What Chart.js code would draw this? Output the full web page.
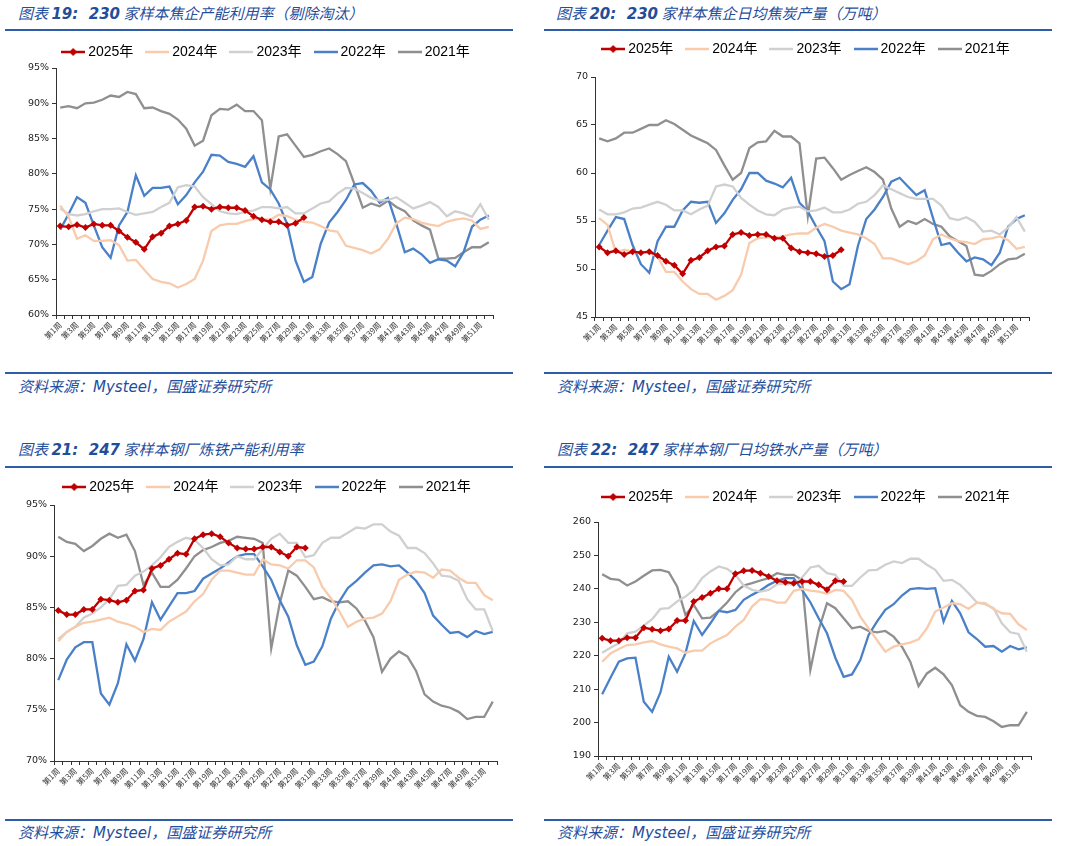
<!DOCTYPE html>
<html lang="zh">
<head>
<meta charset="UTF-8">
<title>焦化与钢厂周度数据</title>
<script src="https://cdn.jsdelivr.net/npm/chart.js"></script>
<style>
    body { margin: 0; width: 1065px; height: 846px; background: #fff; position: relative; overflow: hidden; }
    .ttl, .src { position: absolute; color: #1f4e9c; font-style: italic; font-family: "Noto Sans CJK SC", "DejaVu Sans", sans-serif; font-size: 15px; line-height: 18px; white-space: nowrap; }
    .ttl b, .src b { font-family: "DejaVu Sans", sans-serif; font-weight: bold; }
    .rule { position: absolute; height: 2px; background: #2e5ca8; }
    .box { position: absolute; }
</style>
</head>
<body>
    <div class="ttl" style="left:18px; top:4px;">图表 <b>19:&nbsp; 230</b> 家样本焦企产能利用率（剔除淘汰）</div>
    <div class="ttl" style="left:556px; top:4px;">图表 <b>20:&nbsp; 230</b> 家样本焦企日均焦炭产量（万吨）</div>
    <div class="rule" style="left:5px; top:29px; width:508px;"></div>
    <div class="rule" style="left:544px; top:29px; width:508px;"></div>

    <div class="box" style="left:0px; top:29px; width:532px; height:331px;"><canvas id="c1"></canvas></div>
    <div class="box" style="left:540px; top:26px; width:525px; height:336px;"><canvas id="c2"></canvas></div>

    <div class="rule" style="left:5px; top:372px; width:508px;"></div>
    <div class="rule" style="left:544px; top:372px; width:508px;"></div>
    <div class="src" style="left:18px; top:377px;">资料来源：<b style="font-weight:normal">Mysteel</b>，国盛证券研究所</div>
    <div class="src" style="left:557px; top:377px;">资料来源：<b style="font-weight:normal">Mysteel</b>，国盛证券研究所</div>

    <div class="ttl" style="left:18px; top:440px;">图表 <b>21:&nbsp; 247</b> 家样本钢厂炼铁产能利用率</div>
    <div class="ttl" style="left:557px; top:440px;">图表 <b>22:&nbsp; 247</b> 家样本钢厂日均铁水产量（万吨）</div>
    <div class="rule" style="left:5px; top:466px; width:508px;"></div>
    <div class="rule" style="left:544px; top:466px; width:508px;"></div>

    <div class="box" style="left:0px; top:464px; width:532px; height:342px;"><canvas id="c3"></canvas></div>
    <div class="box" style="left:540px; top:474px; width:525px; height:327px;"><canvas id="c4"></canvas></div>

    <div class="rule" style="left:5px; top:819px; width:508px;"></div>
    <div class="rule" style="left:544px; top:819px; width:508px;"></div>
    <div class="src" style="left:18px; top:823px;">资料来源：<b style="font-weight:normal">Mysteel</b>，国盛证券研究所</div>
    <div class="src" style="left:557px; top:823px;">资料来源：<b style="font-weight:normal">Mysteel</b>，国盛证券研究所</div>

<script>
// 周次 / 年份
const weeks = Array.from({length: 52}, (_, i) => '第' + (i + 1) + '周');
const years = ['2025年', '2024年', '2023年', '2022年', '2021年'];

// 图表19 焦企产能利用率 %
const coke2025 = [72.6,72.5,72.8,72.4,72.9,72.7,72.7,71.9,71.0,70.3,69.3,71.1,71.6,72.6,72.9,73.4,75.3,75.4,75.0,75.3,75.2,75.2,74.8,74.0,73.5,73.2,73.2,72.7,73.0,73.8];
const coke2024 = [75.5,73.9,70.8,71.3,70.5,70.5,70.6,69.9,67.7,67.8,66.4,65.1,64.7,64.5,63.9,64.4,65.1,67.7,71.9,72.7,72.9,72.9,73.3,73.6,73.6,73.5,74.2,74.0,73.5,73.2,73.1,72.6,72.0,71.8,69.8,69.5,69.2,68.7,69.3,70.8,73.0,73.8,73.6,73.1,72.8,72.6,73.2,73.5,73.7,73.4,72.2,72.5];
const coke2023 = [75.1,74.3,74.1,74.3,74.7,75.0,75.0,75.1,74.6,74.2,74.4,74.6,75.3,75.9,78.1,78.4,78.2,76.7,75.7,74.7,74.4,74.3,74.6,74.8,75.3,75.3,75.1,75.3,74.4,74.4,75.1,75.8,76.1,77.2,78.0,77.9,77.3,76.6,76.2,76.3,76.7,75.9,75.1,75.5,76.0,75.3,74.0,74.7,74.4,73.9,75.7,73.5];
const coke2022 = [72.1,74.3,76.7,75.9,72.7,69.6,68.1,72.7,74.6,79.8,76.9,78.0,78.0,78.2,75.7,77.0,78.8,80.3,82.7,82.6,81.7,81.4,81.0,82.5,78.8,77.8,75.8,72.9,67.7,64.7,65.4,70.1,73.1,74.6,76.3,78.5,78.7,77.6,75.9,76.6,72.9,68.9,69.4,68.6,67.4,67.9,67.7,66.9,68.9,72.5,73.5,74.1];
const coke2021 = [89.4,89.6,89.3,90.0,90.1,90.5,91.1,90.9,91.6,91.3,89.3,89.4,88.9,88.5,87.7,86.4,84.0,84.7,88.3,89.2,89.1,89.8,88.9,88.9,87.6,77.9,85.3,85.6,84.0,82.4,82.7,83.2,83.6,82.8,81.8,78.6,75.2,75.8,75.4,76.2,75.3,74.7,73.4,72.7,72.1,68.0,68.0,68.1,68.9,69.6,69.6,70.3];

// 图表20 焦企日均焦炭产量 万吨
const coal2025 = [52.3,51.7,51.9,51.5,51.8,51.7,51.8,51.4,50.8,50.4,49.5,50.9,51.2,51.9,52.3,52.4,53.6,53.8,53.5,53.6,53.6,53.2,53.2,52.2,51.8,51.7,51.6,51.3,51.4,52.0];
const coal2024 = [55.3,54.6,51.7,52.0,51.8,51.7,51.7,51.3,49.7,49.7,48.7,47.9,47.4,47.4,46.8,47.2,47.8,49.4,52.7,53.2,53.3,53.3,53.4,53.6,53.7,53.7,54.3,54.7,54.4,54.0,53.8,53.6,53.2,52.6,51.1,51.1,50.8,50.5,50.8,51.4,53.1,53.6,53.2,52.9,52.8,52.6,53.1,53.2,53.4,53.0,52.1,52.3];
const coal2023 = [56.2,55.7,55.7,55.9,56.3,56.4,56.7,57.0,56.7,56.1,56.1,55.7,56.2,56.6,58.6,58.8,58.6,57.4,56.7,56.1,55.7,55.6,56.2,56.4,56.5,56.0,56.1,56.4,55.9,55.9,56.2,56.8,57.0,57.7,58.7,58.3,57.9,57.5,57.3,57.3,57.3,56.6,55.3,55.1,55.4,54.9,53.9,54.0,53.6,54.3,55.4,53.9];
const coal2022 = [52.5,54.0,55.4,55.2,52.5,50.5,49.6,52.9,54.4,54.4,56.1,57.0,56.9,57.0,54.8,55.8,57.2,58.3,60.0,60.0,59.2,58.9,58.5,59.5,56.9,56.0,54.4,52.9,48.7,47.9,48.4,52.4,55.2,56.2,57.5,59.1,59.5,58.6,57.7,58.2,55.3,52.5,52.7,51.7,50.8,51.2,51.0,50.4,51.7,54.4,55.2,55.6];
const coal2021 = [63.6,63.3,63.6,64.2,64.2,64.6,65.0,65.0,65.5,65.1,64.5,63.9,63.5,63.1,62.4,60.8,59.3,60.0,62.6,63.2,63.3,64.4,63.8,63.8,63.1,55.5,61.5,61.6,60.5,59.3,59.8,60.2,60.6,60.1,59.3,56.3,54.4,55.0,54.7,55.2,54.7,54.4,53.4,52.9,52.4,49.4,49.3,49.8,50.5,51.0,51.1,51.6];

// 图表21 钢厂炼铁产能利用率 %
const blast2025 = [84.7,84.3,84.3,84.8,84.8,85.8,85.7,85.5,85.7,86.6,86.7,88.8,89.1,89.7,90.3,90.2,91.7,92.1,92.2,91.9,91.3,90.8,90.7,90.7,90.9,90.9,90.4,90.0,90.9,90.8];
const blast2024 = [81.7,82.6,83.1,83.5,83.6,83.8,84.0,83.6,83.4,83.1,82.6,82.9,82.8,83.6,84.1,84.6,85.6,86.3,87.7,88.6,88.6,88.4,88.2,88.2,89.7,89.2,89.1,88.8,89.6,89.6,88.9,87.0,85.9,84.6,83.1,83.6,83.9,84.0,84.4,85.6,87.7,88.2,88.5,88.4,87.9,88.7,88.6,87.9,87.4,87.4,86.2,85.7];
const blast2023 = [81.9,82.6,83.1,84.0,84.4,85.0,85.8,87.1,87.2,88.1,88.5,89.1,89.9,90.9,91.4,91.8,91.6,90.8,89.7,89.1,89.2,90.0,89.7,89.7,90.7,91.7,92.2,91.3,91.3,89.9,90.1,91.3,91.8,91.8,92.3,92.8,92.7,93.1,93.1,92.4,92.0,90.8,90.8,90.3,89.3,88.1,88.0,87.6,85.8,84.8,84.8,82.7];
const blast2022 = [77.9,79.9,81.1,81.6,81.6,76.6,75.5,77.6,81.4,79.8,81.9,85.5,83.8,85.1,86.4,86.4,86.6,87.8,88.3,88.8,89.4,90.0,90.2,90.2,89.0,87.7,85.7,84.1,81.3,79.4,79.7,81.2,83.9,85.6,86.9,87.6,88.4,89.1,89.2,89.0,89.1,88.4,87.6,86.4,84.2,83.3,82.5,82.6,82.1,82.7,82.4,82.6];
const blast2021 = [91.9,91.4,91.2,90.5,91.0,91.7,92.2,91.8,92.1,90.5,87.2,88.4,87.0,87.0,87.7,88.8,90.0,90.6,90.9,91.3,91.5,91.9,91.8,91.7,91.3,81.0,85.4,88.6,88.1,87.0,85.8,86.0,85.6,85.5,85.6,84.9,83.7,82.1,78.7,80.0,80.7,80.2,78.8,76.5,75.8,75.4,75.2,74.8,74.1,74.3,74.3,75.8];

// 图表22 钢厂日均铁水产量 万吨
const iron2025 = [225.2,224.5,224.5,225.4,225.4,228.4,227.9,227.5,228.0,230.5,230.5,236.2,237.4,238.7,240.0,240.0,244.5,245.4,245.5,244.7,243.7,242.4,242.0,241.7,242.2,242.2,241.2,239.7,242.4,242.2];
const iron2024 = [218.2,220.7,222.0,223.2,223.4,224.0,224.4,223.4,222.7,222.2,220.9,221.5,221.5,223.7,225.0,226.2,228.7,230.7,234.7,236.9,236.7,235.9,235.9,239.4,240.0,239.5,239.2,238.5,239.7,239.4,236.7,231.7,228.2,224.7,221.2,222.7,223.4,223.9,224.9,228.2,233.2,234.4,235.7,235.4,234.0,235.9,235.7,234.0,232.7,232.5,229.4,227.7];
const iron2023 = [220.9,222.4,223.7,226.7,227.2,229.0,230.9,234.0,234.2,236.2,237.7,239.7,243.2,245.2,246.7,246.0,244.2,241.0,239.7,239.2,239.7,241.4,241.4,241.2,243.4,246.4,246.9,244.7,244.2,240.9,240.9,243.4,245.5,245.7,247.2,248.2,247.7,249.0,249.0,247.2,245.7,242.4,242.7,241.2,238.7,235.9,235.4,234.2,229.7,227.0,226.5,221.2];
const iron2022 = [208.5,213.4,218.2,219.2,219.4,206.2,203.2,209.0,219.7,215.2,220.7,230.4,226.2,229.7,233.4,233.0,233.7,236.7,238.2,239.5,241.2,242.4,243.2,243.2,239.7,236.0,231.2,226.7,219.4,213.7,214.4,218.7,226.2,230.2,233.7,235.4,238.0,239.9,240.2,240.0,240.2,230.2,236.4,232.7,227.0,225.0,222.7,222.9,221.2,222.9,221.9,222.5];
const iron2021 = [244.4,243.0,242.7,241.0,242.2,243.9,245.5,245.7,245.0,240.7,232.2,235.2,231.2,231.4,233.4,235.9,239.0,241.0,241.7,242.5,243.2,244.7,244.2,244.2,242.7,215.7,227.7,235.7,234.2,231.2,228.2,228.7,227.4,227.0,227.4,225.7,222.7,218.2,210.9,214.7,216.4,214.4,211.2,205.2,203.2,202.0,201.7,200.4,198.7,199.2,199.2,203.2];

const colors = ['#c00000', '#f8cbad', '#d0d0d0', '#4a80c8', '#8f8f8f'];

// 图例小图：线段(+菱形)
function legendKey(color, diamond) {
    const c = document.createElement('canvas');
    c.width = 24; c.height = 10;
    const g = c.getContext('2d');
    g.strokeStyle = color; g.lineWidth = 2.5;
    g.beginPath(); g.moveTo(0, 5); g.lineTo(24, 5); g.stroke();
    if (diamond) {
        g.fillStyle = color;
        g.beginPath(); g.moveTo(12, 1); g.lineTo(16, 5); g.lineTo(12, 9); g.lineTo(8, 5); g.closePath(); g.fill();
    }
    return c;
}
const keys = colors.map((c, i) => legendKey(c, i === 0));

// 图例整体平移
const legendShift = {
    id: 'legendShift',
    afterLayout(chart) {
        const dx = chart.options.plugins.legendShift.dx || 0;
        if (chart.legend) { chart.legend.left += dx; chart.legend.right += dx; }
    }
};

function makeChart(id, series, yMin, yMax, yStep, pct, cfg) {
    const datasets = series.map((d, i) => ({
        label: years[i],
        data: d,
        borderColor: colors[i],
        backgroundColor: colors[i],
        borderWidth: 2.3,
        pointRadius: i === 0 ? 3.5 : 0,
        pointStyle: 'rectRot',
        pointBorderWidth: 0,
        tension: 0
    }));
    return new Chart(document.getElementById(id), {
        type: 'line',
        data: { labels: weeks, datasets: datasets },
        plugins: [legendShift],
        options: {
            responsive: true,
            maintainAspectRatio: false,
            animation: false,
            layout: { padding: { left: 0, right: cfg.padR, top: 0, bottom: 0 } },
            plugins: {
                tooltip: { enabled: false },
                legendShift: { dx: cfg.dx },
                title: {
                    display: cfg.gap > 0,
                    text: '',
                    weight: 500,
                    padding: 0,
                    font: { size: Math.max(cfg.gap, 1), lineHeight: 1 }
                },
                legend: {
                    position: 'top',
                    maxHeight: cfg.legendMax || 100,
                    labels: {
                        usePointStyle: true,
                        pointStyleWidth: 16,
                        padding: 16,
                        color: '#000',
                        font: { family: '"Liberation Sans", "Noto Sans CJK SC", sans-serif', size: 14 },
                        generateLabels: (chart) => chart.data.datasets.map((ds, i) => ({
                            text: ds.label,
                            pointStyle: keys[i],
                            datasetIndex: i,
                            hidden: false,
                            lineWidth: 0,
                            fillStyle: 'transparent',
                            strokeStyle: 'transparent',
                            fontColor: '#000'
                        }))
                    }
                }
            },
            scales: {
                x: {
                    offset: true,
                    afterFit: (s) => { s.height = 45; },
                    grid: { offset: true, drawOnChartArea: false, drawTicks: true, tickLength: 4, color: '#333' },
                    border: { display: true, color: '#333', width: 1 },
                    ticks: {
                        autoSkip: false,
                        maxRotation: 45,
                        minRotation: 45,
                        padding: 1,
                        color: '#333',
                        font: { family: '"Noto Sans CJK SC", sans-serif', size: 8 },
                        callback: (v, idx) => idx % 2 === 0 ? weeks[idx] : ''
                    }
                },
                y: {
                    min: yMin,
                    max: yMax,
                    afterFit: (s) => { s.width = cfg.yW; },
                    grid: { drawOnChartArea: false, drawTicks: true, tickLength: 4, color: '#333' },
                    border: { display: true, color: '#333', width: 1 },
                    ticks: {
                        stepSize: yStep,
                        padding: 3,
                        color: '#222',
                        font: { family: '"DejaVu Sans", sans-serif', size: 9.5 },
                        callback: (v) => pct ? v + '%' : v
                    }
                }
            }
        }
    });
}

makeChart('c1', [coke2025, coke2024, coke2023, coke2022, coke2021], 60, 95, 5, true,
    { padR: 39, yW: 56, dx: 21, gap: 0, legendMax: 39 });
makeChart('c2', [coal2025, coal2024, coal2023, coal2022, coal2021], 45, 70, 5, false,
    { padR: 36, yW: 55, dx: 23, gap: 11 });
makeChart('c3', [blast2025, blast2024, blast2023, blast2022, blast2021], 70, 95, 5, true,
    { padR: 35, yW: 54, dx: 20, gap: 1 });
makeChart('c4', [iron2025, iron2024, iron2023, iron2022, iron2021], 190, 260, 10, false,
    { padR: 34, yW: 58, dx: 22, gap: 8 });
</script>
</body>
</html>
